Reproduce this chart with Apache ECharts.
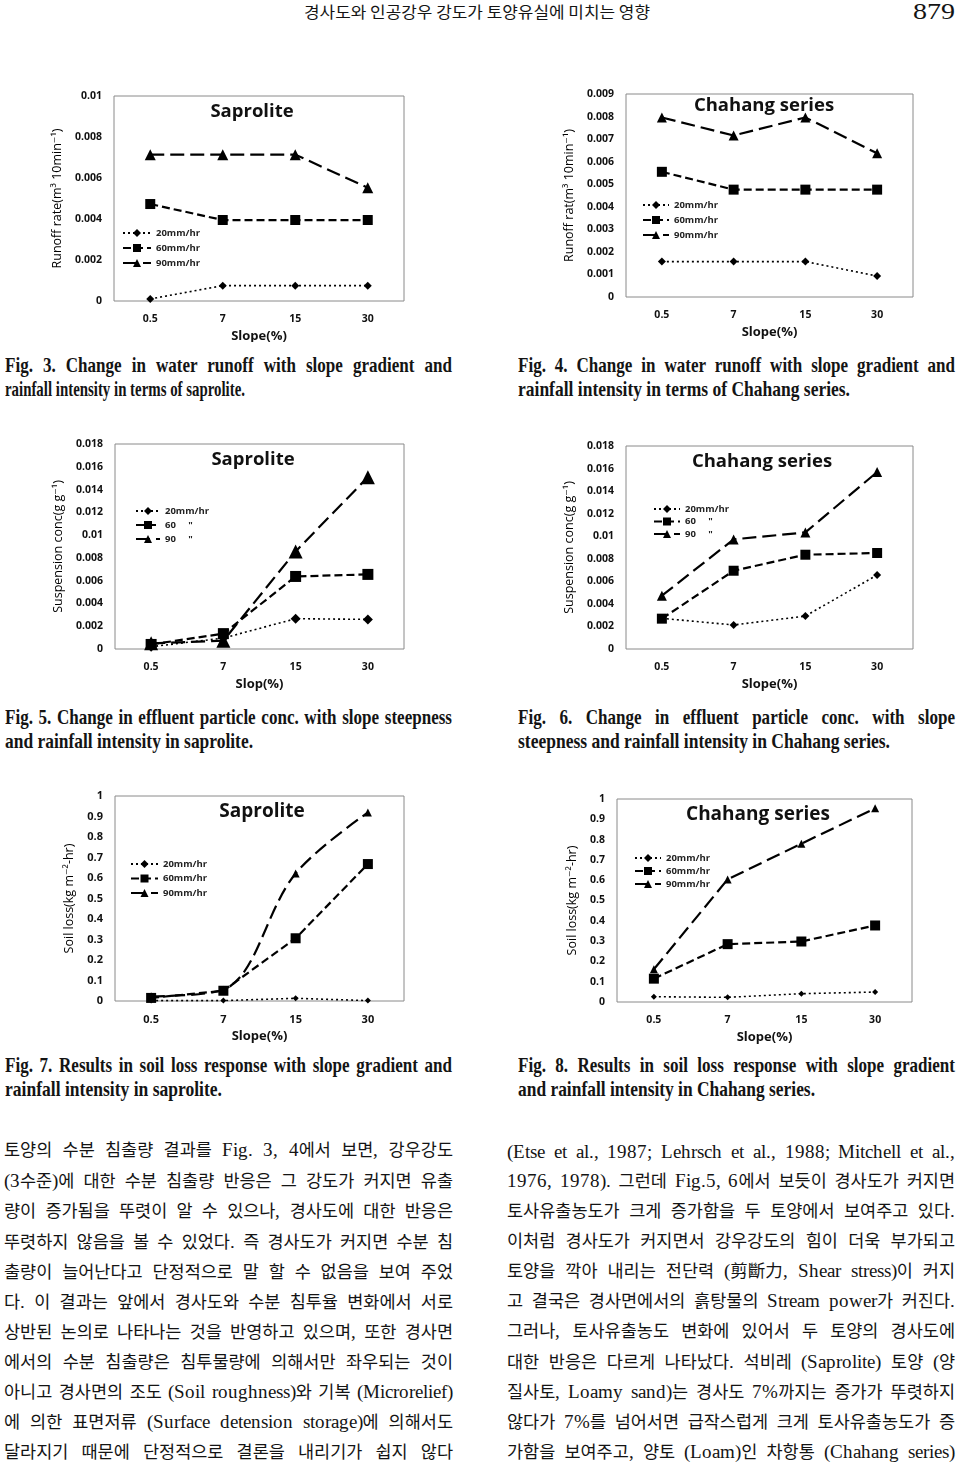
<!DOCTYPE html>
<html>
<head>
<meta charset="utf-8">
<script src="https://cdn.jsdelivr.net/npm/echarts/dist/echarts.min.js"></script>
<style>
  @font-face { font-family: 'BodyLatin'; src: local('Liberation Serif'); size-adjust: 111%; }
  html, body { margin:0; padding:0; background:#fff; }
  body { position:relative; width:960px; height:1463px; overflow:hidden; }
  .fig { position:absolute; }
  .txt { position:absolute; white-space:nowrap; transform-origin:0 50%; color:#141414; }
  .han { display:inline-block; }
</style>
</head>
<body>
<div id="f3" class="fig" style="left:0;top:80px;width:480px;height:262px"></div>
<div id="f4" class="fig" style="left:480px;top:80px;width:480px;height:262px"></div>
<div id="f5" class="fig" style="left:0;top:430px;width:480px;height:270px"></div>
<div id="f6" class="fig" style="left:480px;top:430px;width:480px;height:270px"></div>
<div id="f7" class="fig" style="left:0;top:780px;width:480px;height:270px"></div>
<div id="f8" class="fig" style="left:480px;top:780px;width:480px;height:270px"></div>
<script>
// ---------------- data ----------------
const slopes = ['0.5', '7', '15', '30'];
const rainNames = ['20mm/hr', '60mm/hr', '90mm/hr'];
const rainNamesDitto = ['20mm/hr', '60     "', '90     "'];

const fig3Ticks = ['0', '0.002', '0.004', '0.006', '0.008', '0.01'];
const fig3Rain20 = [0.0001, 0.00075, 0.00075, 0.00075];
const fig3Rain60 = [0.00473, 0.00395, 0.00395, 0.00395];
const fig3Rain90 = [0.00714, 0.00714, 0.00714, 0.00553];

const fig4Ticks = ['0', '0.001', '0.002', '0.003', '0.004', '0.005', '0.006', '0.007', '0.008', '0.009'];
const fig4Rain20 = [0.00157, 0.00157, 0.00157, 0.00093];
const fig4Rain60 = [0.00555, 0.00476, 0.00476, 0.00476];
const fig4Rain90 = [0.00796, 0.00716, 0.00796, 0.00637];

const concTicks = ['0', '0.002', '0.004', '0.006', '0.008', '0.01', '0.012', '0.014', '0.016', '0.018'];
const fig5Rain20 = [0.0002, 0.00096, 0.00266, 0.0026];
const fig5Rain60 = [0.0004, 0.00135, 0.00637, 0.00655];
const fig5Rain90 = [0.0005, 0.00073, 0.00857, 0.01509];

const fig6Rain20 = [0.00272, 0.00213, 0.00292, 0.00656];
const fig6Rain60 = [0.00269, 0.00694, 0.00836, 0.00851];
const fig6Rain90 = [0.00473, 0.00972, 0.01034, 0.01569];

const lossTicks = ['0', '0.1', '0.2', '0.3', '0.4', '0.5', '0.6', '0.7', '0.8', '0.9', '1'];
const fig7Rain20 = [0.002, 0.002, 0.013, 0.002];
const fig7Rain60 = [0.015, 0.05, 0.306, 0.668];
const fig7Rain90 = [0.023, 0.055, 0.622, 0.919];

const fig8Rain20 = [0.026, 0.023, 0.041, 0.049];
const fig8Rain60 = [0.115, 0.285, 0.298, 0.377];
const fig8Rain90 = [0.161, 0.604, 0.78, 0.954];

// ---------------- texts ----------------
const headerTitle = '경사도와 인공강우 강도가 토양유실에 미치는 영향';
const pageNumber = '879';
const captions = [
  ['Fig. 3. Change in water runoff with slope gradient and', 'rainfall intensity in terms of  saprolite.'],
  ['Fig. 4. Change in water runoff with slope gradient and', 'rainfall intensity in terms of Chahang series.'],
  ['Fig. 5. Change in effluent particle conc. with slope steepness', 'and rainfall intensity in saprolite.'],
  ['Fig. 6. Change in effluent particle conc. with slope', 'steepness and rainfall intensity in Chahang series.'],
  ['Fig. 7. Results in soil loss response with slope gradient and', 'rainfall intensity in saprolite.'],
  ['Fig. 8. Results in soil loss response with slope gradient', 'and rainfall intensity in Chahang series.']
];
const bodyLeft = [
  '토양의 수분 침출량 결과를 Fig. 3, 4에서 보면, 강우강도',
  '(3수준)에 대한 수분 침출량 반응은 그 강도가 커지면 유출',
  '량이 증가됨을 뚜렷이 알 수 있으나, 경사도에 대한 반응은',
  '뚜렷하지 않음을 볼 수 있었다. 즉 경사도가 커지면 수분 침',
  '출량이 늘어난다고 단정적으로 말 할 수 없음을 보여 주었',
  '다. 이 결과는 앞에서 경사도와 수분 침투율 변화에서 서로',
  '상반된 논의로 나타나는 것을 반영하고 있으며, 또한 경사면',
  '에서의 수분 침출량은 침투물량에 의해서만 좌우되는 것이',
  '아니고 경사면의 조도 (Soil roughness)와 기복 (Microrelief)',
  '에 의한 표면저류 (Surface detension storage)에 의해서도',
  '달라지기 때문에 단정적으로 결론을 내리기가 쉽지 않다'
];
const bodyRight = [
  '(Etse et al., 1987; Lehrsch et al., 1988; Mitchell et al.,',
  '1976, 1978). 그런데 Fig.5, 6에서 보듯이 경사도가 커지면',
  '토사유출농도가 크게 증가함을 두 토양에서 보여주고 있다.',
  '이처럼 경사도가 커지면서 강우강도의 힘이 더욱 부가되고',
  '토양을 깍아 내리는 전단력 (剪斷力, Shear stress)이 커지',
  '고 결국은 경사면에서의 흙탕물의 Stream power가 커진다.',
  '그러나, 토사유출농도 변화에 있어서 두 토양의 경사도에',
  '대한 반응은 다르게 나타났다. 석비레 (Saprolite) 토양 (양',
  '질사토, Loamy sand)는 경사도 7%까지는 증가가 뚜렷하지',
  '않다가 7%를 넘어서면 급작스럽게 크게 토사유출농도가 증',
  '가함을 보여주고, 양토 (Loam)인 차항통 (Chahang series)'
];

// ---------------- charts ----------------
const FONT = '"Open Sans", "DejaVu Sans", sans-serif';
const INK = '#111';

function buildFig(id, c) {
  const chart = echarts.init(document.getElementById(id), null, { renderer: 'canvas' });
  const ticks = c.ticks;
  const styles = [
    { symbol: 'diamond', dash: [2, 3], width: 1.6 },
    { symbol: 'rect', dash: [8, 4], width: 2.2 },
    { symbol: 'triangle', dash: [14, 6], width: 2.2 }
  ];
  chart.setOption({
    animation: false,
    backgroundColor: '#fff',
    title: {
      text: c.title, left: c.titleX, top: c.titleY, textAlign: 'center', padding: 0,
      textStyle: { fontFamily: FONT, fontWeight: 'bold', fontSize: c.titleSize, color: INK }
    },
    legend: {
      orient: 'vertical', left: c.legX, top: c.legY, padding: 0,
      itemWidth: c.legW, itemHeight: 10, itemGap: c.legGap,
      selectedMode: false, data: c.names,
      textStyle: { fontFamily: FONT, fontWeight: 'bold', fontSize: c.legFont, color: '#222', lineHeight: 10 }
    },
    grid: {
      left: c.grid[0], top: c.grid[1], width: c.grid[2], height: c.grid[3],
      show: true, borderColor: '#8a8a8a', borderWidth: 1, backgroundColor: 'transparent',
      containLabel: false, outerBoundsMode: 'none'
    },
    xAxis: {
      type: 'category', data: slopes, boundaryGap: true,
      axisLine: { show: false }, axisTick: { show: false }, splitLine: { show: false },
      axisLabel: { margin: 13, fontFamily: FONT, fontWeight: 'bold', fontSize: c.tickFont, color: INK },
      name: c.xName, nameLocation: 'middle', nameGap: c.xNameGap,
      nameTextStyle: { fontFamily: FONT, fontWeight: 'bold', fontSize: 13, color: INK }
    },
    yAxis: {
      type: 'value',
      min: Number(ticks[0]), max: Number(ticks[ticks.length - 1]),
      interval: Number(ticks[1]) - Number(ticks[0]),
      axisLine: { show: false }, axisTick: { show: false }, splitLine: { show: false },
      axisLabel: {
        margin: 12, fontFamily: FONT, fontWeight: 'bold', fontSize: c.tickFont, color: INK,
        formatter: v => { const t = ticks.find(s => Math.abs(Number(s) - v) < 1e-9); return t === undefined ? '' : t; }
      },
      name: c.yName, nameLocation: 'middle', nameGap: c.yNameGap,
      nameTextStyle: { fontFamily: FONT, fontSize: 12.5, color: '#000' }
    },
    series: c.values.map((vals, i) => ({
      name: c.names[i], type: 'line', data: vals,
      symbol: styles[i].symbol, symbolSize: c.sizes[i],
      smooth: c.smooth ? c.smooth[i] : false,
      z: 2 + i,
      lineStyle: { color: '#000', width: styles[i].width, type: styles[i].dash },
      itemStyle: { color: '#000', borderWidth: 0 }
    }))
  });
}

buildFig('f3', {
  title: 'Saprolite', titleX: 252, titleY: 22, titleSize: 18.5,
  grid: [114, 16, 290, 205], ticks: fig3Ticks, tickFont: 10.5,
  names: rainNames, values: [fig3Rain20, fig3Rain60, fig3Rain90], sizes: [8, 10, 11],
  legX: 122, legY: 148, legW: 28, legGap: 5, legFont: 9.5,
  xName: 'Slope(%)', xNameGap: 25, yName: 'Runoff rate(m³ 10min⁻¹)', yNameGap: 43
});
buildFig('f4', {
  title: 'Chahang series', titleX: 284, titleY: 16, titleSize: 18.5,
  grid: [146, 14, 287, 203], ticks: fig4Ticks, tickFont: 10.5,
  names: rainNames, values: [fig4Rain20, fig4Rain60, fig4Rain90], sizes: [8, 10, 10],
  legX: 162, legY: 120, legW: 26, legGap: 5, legFont: 9.5,
  xName: 'Slope(%)', xNameGap: 25, yName: 'Runoff rat(m³ 10min⁻¹)', yNameGap: 45
});
buildFig('f5', {
  title: 'Saprolite', titleX: 253, titleY: 20, titleSize: 18.5,
  grid: [115, 14, 289, 205], ticks: concTicks, tickFont: 10.5,
  names: rainNamesDitto, values: [fig5Rain20, fig5Rain60, fig5Rain90], sizes: [10, 11, 14],
  legX: 135, legY: 76, legW: 24, legGap: 4, legFont: 9.5,
  xName: 'Slop(%)', xNameGap: 28, yName: 'Suspension conc(g g⁻¹)', yNameGap: 46
});
buildFig('f6', {
  title: 'Chahang series', titleX: 282, titleY: 22, titleSize: 18.5,
  grid: [146, 16, 287, 203], ticks: concTicks, tickFont: 10.5,
  names: rainNamesDitto, values: [fig6Rain20, fig6Rain60, fig6Rain90], sizes: [8, 10, 10],
  legX: 173, legY: 74, legW: 26, legGap: 2.5, legFont: 9.5,
  xName: 'Slope(%)', xNameGap: 28, yName: 'Suspension conc(g g⁻¹)', yNameGap: 47
});
buildFig('f7', {
  title: 'Saprolite', titleX: 262, titleY: 22, titleSize: 19,
  grid: [115, 16, 289, 205], ticks: lossTicks, tickFont: 11,
  names: rainNames, values: [fig7Rain20, fig7Rain60, fig7Rain90], sizes: [6, 10, 8],
  smooth: [false, false, 0.35],
  legX: 130, legY: 79, legW: 27, legGap: 4.5, legFont: 9.5,
  xName: 'Slope(%)', xNameGap: 22, yName: 'Soil loss(kg m⁻²-hr)', yNameGap: 36
});
buildFig('f8', {
  title: 'Chahang series', titleX: 278, titleY: 25, titleSize: 19,
  grid: [137, 19, 295, 203], ticks: lossTicks, tickFont: 10.5,
  names: rainNames, values: [fig8Rain20, fig8Rain60, fig8Rain90], sizes: [6, 10, 8],
  legX: 154, legY: 73, legW: 26, legGap: 3, legFont: 9.5,
  xName: 'Slope(%)', xNameGap: 24, yName: 'Soil loss(kg m⁻²-hr)', yNameGap: 38
});

// ---------------- page text ----------------
function fillText(el, text) {
  // keep runs of Chinese characters together so justification only widens spaces
  const parts = text.split(/([\u4e00-\u9fff]+)/);
  parts.forEach(p => {
    if (!p) return;
    if (/^[\u4e00-\u9fff]+$/.test(p)) {
      const sp = document.createElement('span');
      sp.className = 'han';
      sp.textContent = p;
      el.appendChild(sp);
    } else {
      el.appendChild(document.createTextNode(p));
    }
  });
}
function addLine(text, x, yc, o) {
  const el = document.createElement('div');
  el.className = 'txt';
  fillText(el, text);
  Object.assign(el.style, {
    left: x + 'px', top: (yc - o.lh / 2) + 'px', height: o.lh + 'px', lineHeight: o.lh + 'px',
    fontFamily: o.font, fontSize: o.size + 'px', fontWeight: o.weight || 'normal'
  });
  document.body.appendChild(el);
  const nat = el.getBoundingClientRect().width;
  return { el, nat };
}
function finishLine(item, w, justify, s) {
  const { el, nat } = item;
  if (justify && nat * s <= w - 1) {
    el.style.width = (w / s) + 'px';
    el.style.whiteSpace = 'normal';
    el.style.textAlign = 'justify';
    el.style.textAlignLast = 'justify';
    if (s !== 1) el.style.transform = 'scaleX(' + s + ')';
  } else {
    el.style.transform = 'scaleX(' + (w / nat) + ')';
  }
}

function layoutText() {
  // header
  const hd = addLine(headerTitle, 304, 11, { lh: 20, size: 16, font: '"Noto Sans CJK KR", sans-serif' });
  finishLine(hd, 346, false, 1);
  const pn = addLine(pageNumber, 913, 11, { lh: 26, size: 24, font: '"Liberation Serif", serif' });
  finishLine(pn, 42, false, 1);

  // captions
  const capFont = { lh: 24, size: 21, font: '"Liberation Serif", serif', weight: 'bold' };
  const capRows = [[365, 389], [365, 389], [717, 741], [717, 741], [1065, 1089], [1065, 1089]];
  const capX = [5, 518, 5, 518, 5, 518];
  const firstW = [447, 437, 447, 437, 447, 437];
  const lastW = [240, 332, 248, 372, 217, 297];
  const firsts = [], lasts = [];
  let sum = 0;
  captions.forEach((c, i) => {
    firsts.push(addLine(c[0], capX[i], capRows[i][0], capFont));
    const l = addLine(c[1], capX[i], capRows[i][1], capFont);
    lasts.push(l);
    sum += lastW[i] / l.nat;
  });
  const s = sum / captions.length;
  captions.forEach((c, i) => {
    finishLine(firsts[i], firstW[i], true, s);
    finishLine(lasts[i], lastW[i], false, s);
  });

  // body text
  const bodyFont = { lh: 26, size: 17.5, font: '"BodyLatin", "Noto Sans CJK KR", serif' };
  const yl = [1150, 1181, 1211, 1242, 1272, 1302, 1332, 1362, 1392, 1422, 1452];
  const yr = [1152, 1181, 1211, 1241, 1271, 1301, 1331, 1362, 1392, 1422, 1452];
  bodyLeft.forEach((t, i) => finishLine(addLine(t, 4, yl[i], bodyFont), 449, true, 1));
  bodyRight.forEach((t, i) => finishLine(addLine(t, 507, yr[i], bodyFont), 448, true, 1));
}
if (document.fonts && document.fonts.ready) { document.fonts.ready.then(layoutText); } else { layoutText(); }
</script>
</body>
</html>
